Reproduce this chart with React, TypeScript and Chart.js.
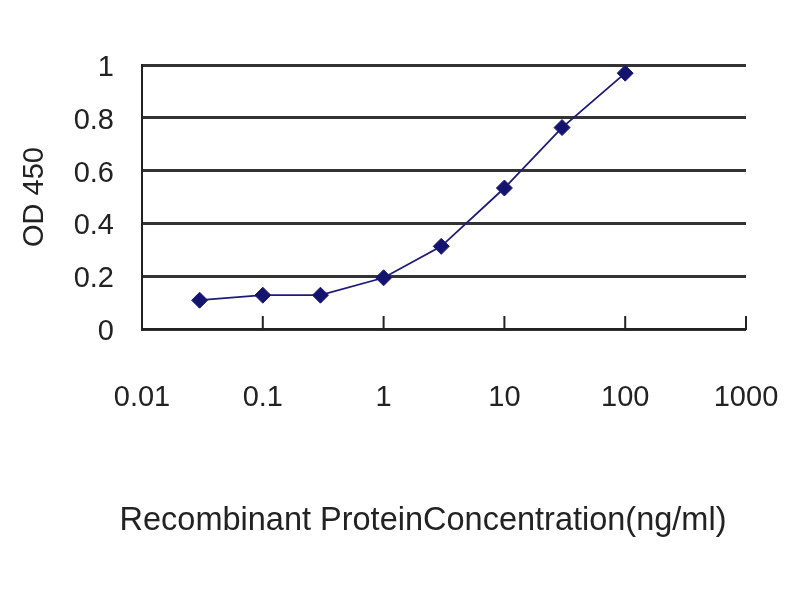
import { useEffect, useRef } from "react";
import { Chart, registerables } from "chart.js";

Chart.register(...registerables);

// concentration (ng/ml) and OD 450 readings
const concentrations = [0.03, 0.1, 0.3, 1, 3, 10, 30, 100];
const odValues = [0.109, 0.128, 0.128, 0.194, 0.313, 0.534, 0.763, 0.969];
const xTicks = [0.01, 0.1, 1, 10, 100, 1000];
const xTitle = "Recombinant ProteinConcentration(ng/ml)";

const FONT = "'Liberation Sans', Arial, sans-serif";
const INK = "#222";

// small inward tick marks on the bottom axis + the x title (slightly left of centre, as in the original)
const extras = {
  id: "extras",
  afterDraw(chart: any) {
    const x = chart.scales.x;
    const ctx = chart.ctx;
    const y0 = chart.chartArea.bottom;
    ctx.save();
    ctx.strokeStyle = INK;
    ctx.lineWidth = 2;
    xTicks.forEach((v) => {
      const px = x.getPixelForValue(v);
      ctx.beginPath();
      ctx.moveTo(px, y0);
      ctx.lineTo(px, y0 - 13);
      ctx.stroke();
    });
    ctx.fillStyle = INK;
    ctx.font = `32.5px ${FONT}`;
    ctx.textAlign = "center";
    ctx.textBaseline = "middle";
    ctx.fillText(xTitle, (x.left + x.right) / 2 - 21, 521);
    ctx.restore();
  },
};

export default function App() {
  const canvasRef = useRef<HTMLCanvasElement | null>(null);

  useEffect(() => {
    const canvas = canvasRef.current;
    if (!canvas) return;

    const chart = new Chart(canvas, {
      type: "line",
      data: {
        datasets: [
          {
            data: concentrations.map((c, i) => ({ x: c, y: odValues[i] })),
            borderColor: "#1c1c78",
            backgroundColor: "#14146e",
            borderWidth: 1.8,
            pointStyle: "rectRot",
            pointRadius: 8,
            pointBorderWidth: 1,
            tension: 0,
          },
        ],
      },
      options: {
        animation: false,
        responsive: false,
        maintainAspectRatio: false,
        layout: { padding: { top: 65, right: 54, bottom: 0, left: 0 } },
        plugins: { legend: { display: false }, tooltip: { enabled: false } },
        scales: {
          x: {
            type: "logarithmic",
            min: 0.01,
            max: 1000,
            afterBuildTicks: (scale: any) => {
              scale.ticks = xTicks.map((v) => ({ value: v }));
            },
            afterFit: (scale: any) => {
              scale.height = 271;
            },
            // invisible long tick marks push the labels down
            grid: {
              drawOnChartArea: false,
              drawTicks: true,
              tickLength: 50,
              color: "rgba(0,0,0,0)",
            },
            border: { display: true, color: INK, width: 2 },
            ticks: {
              autoSkip: false,
              maxRotation: 0,
              padding: 2,
              color: INK,
              font: { family: FONT, size: 29 },
              callback: (v: any) => String(v),
            },
          },
          y: {
            min: 0,
            max: 1,
            afterFit: (scale: any) => {
              scale.width = 142;
            },
            grid: { color: "#333", lineWidth: 3, drawTicks: false },
            border: { display: true, color: INK, width: 2 },
            ticks: {
              stepSize: 0.2,
              padding: 28,
              labelOffset: 3,
              color: INK,
              font: { family: FONT, size: 29 },
              callback: (v: any) => String(Math.round(Number(v) * 10) / 10),
            },
            title: {
              display: true,
              text: "OD 450",
              color: INK,
              font: { family: FONT, size: 29 },
              padding: { top: 18, bottom: 0 },
            },
          },
        },
      },
      plugins: [extras],
    });

    return () => {
      chart.destroy();
    };
  }, []);

  return (
    <div style={{ position: "fixed", left: 0, top: 0, width: 800, height: 600, background: "#fff" }}>
      <canvas ref={canvasRef} width={800} height={600}></canvas>
    </div>
  );
}
